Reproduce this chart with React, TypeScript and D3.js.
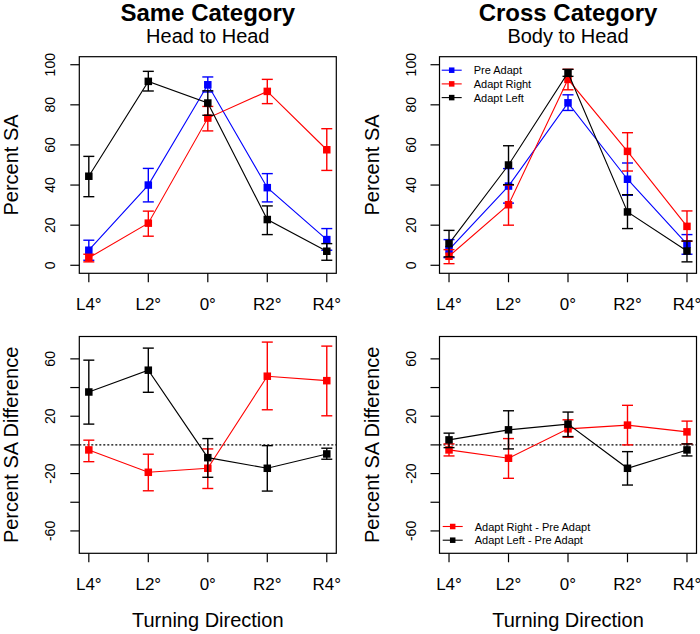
import React from "react";
import * as d3 from "d3";

const categories = ["L4°", "L2°", "0°", "R2°", "R4°"];
const seriesNamesTop = ["Pre Adapt", "Adapt Right", "Adapt Left"];
const seriesNamesDiff = ["Adapt Right - Pre Adapt", "Adapt Left - Pre Adapt"];

// Same category (Head to Head)
const samePre = [7.5, 40, 90, 38.7, 12.8];
const samePreLo = [2.5, 31.6, 86.4, 31.6, 7.5];
const samePreHi = [12.5, 48.3, 93.9, 45.7, 18.3];
const sameRight = [3.7, 21, 73.4, 86.7, 57.6];
const sameRightLo = [1.7, 14.5, 67, 80.6, 47.3];
const sameRightHi = [5.5, 27, 79.2, 92.7, 68.1];
const sameLeft = [44.4, 91.7, 80.9, 22.8, 7];
const sameLeftLo = [34.2, 86.9, 74.8, 15.3, 2.5];
const sameLeftHi = [54.3, 96.7, 87, 29.6, 10.8];

// Cross category (Body to Head)
const crossPre = [7.8, 39.5, 81, 42.9, 10.5];
const crossPreLo = [3.8, 31, 77.2, 34.9, 5.5];
const crossPreHi = [12.8, 48.2, 85, 51, 15.3];
const crossRight = [4.5, 30.2, 92.7, 56.8, 19.4];
const crossRightLo = [0.8, 20, 87.5, 47, 12];
const crossRightHi = [7.8, 40, 97.7, 66.1, 27.1];
const crossLeft = [10.8, 50, 96, 26.6, 7.1];
const crossLeftLo = [4.2, 40.2, 94.2, 18.3, 1.7];
const crossLeftHi = [17.4, 59.6, 97.7, 35.2, 12.1];

// Differences
const sameDiffRight = [-3.5, -19.1, -16.3, 47.9, 44.8];
const sameDiffRightLo = [-11.7, -32, -30.4, 24.5, 20.3];
const sameDiffRightHi = [3.3, -6.5, -2.8, 71.7, 68.9];
const sameDiffLeft = [36.9, 52.1, -8.9, -16.3, -6.3];
const sameDiffLeftLo = [14.5, 36.7, -22.6, -32.2, -10];
const sameDiffLeftHi = [59.1, 67.5, 4.4, -0.5, -2.3];

const crossDiffRight = [-3.5, -9.3, 11.2, 13.8, 9.1];
const crossDiffRightLo = [-7.7, -23.3, 5.4, 0, 0.7];
const crossDiffRightHi = [0.7, 4.4, 17.5, 27.6, 16.6];
const crossDiffLeft = [3.5, 10.5, 14.5, -16.3, -3.5];
const crossDiffLeftLo = [-1.9, -2.8, 5.8, -28, -7.7];
const crossDiffLeftHi = [8.2, 23.8, 22.9, -4.7, 0.7];

const topTicks = [0, 20, 40, 60, 80, 100];
const topTickLabels = ["0", "20", "40", "60", "80", "100"];
const diffTicks = [-60, -40, -20, 0, 20, 40, 60];
const diffTickLabels = ["-60", "", "-20", "", "20", "", "60"];

const FONT = "'Liberation Sans', Arial, Helvetica, sans-serif";

type Series = { name: string; color: string; v: number[]; lo: number[]; hi: number[] };

type PanelProps = {
  left: number;
  top: number;
  width: number;
  height: number;
  yDomain: [number, number];
  ticks: number[];
  tickLabels: string[];
  series: Series[];
  yTitle: string;
  xTitle?: string;
  title?: string;
  subtitle?: string;
  legend?: { x: number; y: number; names: string[]; colors: string[] };
  zeroLine?: boolean;
};

function Panel(p: PanelProps) {
  const x = d3.scaleLinear().domain([0.84, 5.16]).range([p.left, p.left + p.width]);
  const y = d3.scaleLinear().domain(p.yDomain).range([p.top + p.height, p.top]);
  const line = d3
    .line<number>()
    .x((_, i) => x(i + 1))
    .y((d) => y(d));
  const cx = p.left + p.width / 2;
  const cy = p.top + p.height / 2;
  const sq = 7.5;
  const cap = 5.5;
  return (
    <g>
      {p.title && (
        <text x={cx} y={21} textAnchor="middle" fontSize={24} fontWeight="bold" fontFamily={FONT}>
          {p.title}
        </text>
      )}
      {p.subtitle && (
        <text x={cx} y={42.5} textAnchor="middle" fontSize={20} fontFamily={FONT}>
          {p.subtitle}
        </text>
      )}
      {p.zeroLine && (
        <line
          x1={p.left}
          x2={p.left + p.width}
          y1={y(0)}
          y2={y(0)}
          stroke="#000"
          strokeWidth={1.2}
          strokeDasharray="2,2"
        />
      )}
      {p.series.map((s) => (
        <g key={s.name}>
          <path d={line(s.v) || ""} fill="none" stroke={s.color} strokeWidth={1.1} />
          {s.v.map((v, i) => (
            <g key={i} stroke={s.color} strokeWidth={1.4}>
              <line x1={x(i + 1)} x2={x(i + 1)} y1={y(s.lo[i])} y2={y(s.hi[i])} />
              <line x1={x(i + 1) - cap} x2={x(i + 1) + cap} y1={y(s.lo[i])} y2={y(s.lo[i])} />
              <line x1={x(i + 1) - cap} x2={x(i + 1) + cap} y1={y(s.hi[i])} y2={y(s.hi[i])} />
            </g>
          ))}
          {s.v.map((v, i) => (
            <rect key={"r" + i} x={x(i + 1) - sq / 2} y={y(v) - sq / 2} width={sq} height={sq} fill={s.color} />
          ))}
        </g>
      ))}
      <rect x={p.left} y={p.top} width={p.width} height={p.height} fill="none" stroke="#000" strokeWidth={1.2} />
      {categories.map((c, i) => (
        <g key={c}>
          <line
            x1={x(i + 1)}
            x2={x(i + 1)}
            y1={p.top + p.height}
            y2={p.top + p.height + 9}
            stroke="#000"
            strokeWidth={1.2}
          />
          <text x={x(i + 1)} y={p.top + p.height + 36.5} textAnchor="middle" fontSize={17} fontFamily={FONT}>
            {c}
          </text>
        </g>
      ))}
      {p.ticks.map((t, i) => (
        <g key={t}>
          <line x1={p.left - 9} x2={p.left} y1={y(t)} y2={y(t)} stroke="#000" strokeWidth={1.2} />
          {p.tickLabels[i] && (
            <text
              transform={`translate(${p.left - 24},${y(t)}) rotate(-90)`}
              textAnchor="middle"
              fontSize={14}
              fontFamily={FONT}
            >
              {p.tickLabels[i]}
            </text>
          )}
        </g>
      ))}
      <text
        transform={`translate(${p.left - 61},${cy}) rotate(-90)`}
        textAnchor="middle"
        fontSize={20}
        fontFamily={FONT}
      >
        {p.yTitle}
      </text>
      {p.xTitle && (
        <text x={cx} y={627} textAnchor="middle" fontSize={20} fontFamily={FONT}>
          {p.xTitle}
        </text>
      )}
      {p.legend &&
        p.legend.names.map((n, i) => {
          const ly = p.legend!.y + i * 13.7;
          const lx = p.legend!.x;
          return (
            <g key={n}>
              <line x1={lx} x2={lx + 20} y1={ly} y2={ly} stroke={p.legend!.colors[i]} strokeWidth={1.1} />
              <rect x={lx + 10 - 2.75} y={ly - 2.75} width={5.5} height={5.5} fill={p.legend!.colors[i]} />
              <text x={lx + 32} y={ly + 4} fontSize={11} fontFamily={FONT}>
                {n}
              </text>
            </g>
          );
        })}
    </g>
  );
}

const BLUE = "#0000FF";
const RED = "#FF0000";
const BLACK = "#000000";

export default function App() {
  const topDomain: [number, number] = [-4, 104];
  const diffDomain: [number, number] = [-75.6, 75.6];
  const leftX = 79.3;
  const rightX = 439.5;
  const w = 257;
  return (
    <svg
      width={700}
      height={634}
      style={{ position: "absolute", left: 0, top: 0, background: "#fff" }}
      xmlns="http://www.w3.org/2000/svg"
    >
      <rect width={700} height={634} fill="#fff" />
      <Panel
        left={leftX}
        top={56.7}
        width={w}
        height={216.6}
        yDomain={topDomain}
        ticks={topTicks}
        tickLabels={topTickLabels}
        yTitle="Percent SA"
        title="Same Category"
        subtitle="Head to Head"
        series={[
          { name: seriesNamesTop[0], color: BLUE, v: samePre, lo: samePreLo, hi: samePreHi },
          { name: seriesNamesTop[1], color: RED, v: sameRight, lo: sameRightLo, hi: sameRightHi },
          { name: seriesNamesTop[2], color: BLACK, v: sameLeft, lo: sameLeftLo, hi: sameLeftHi },
        ]}
      />
      <Panel
        left={rightX}
        top={56.7}
        width={w}
        height={216.6}
        yDomain={topDomain}
        ticks={topTicks}
        tickLabels={topTickLabels}
        yTitle="Percent SA"
        title="Cross Category"
        subtitle="Body to Head"
        legend={{ x: 441.7, y: 70.2, names: seriesNamesTop, colors: [BLUE, RED, BLACK] }}
        series={[
          { name: seriesNamesTop[0], color: BLUE, v: crossPre, lo: crossPreLo, hi: crossPreHi },
          { name: seriesNamesTop[1], color: RED, v: crossRight, lo: crossRightLo, hi: crossRightHi },
          { name: seriesNamesTop[2], color: BLACK, v: crossLeft, lo: crossLeftLo, hi: crossLeftHi },
        ]}
      />
      <Panel
        left={leftX}
        top={336.5}
        width={w}
        height={216.8}
        yDomain={diffDomain}
        ticks={diffTicks}
        tickLabels={diffTickLabels}
        yTitle="Percent SA Difference"
        xTitle="Turning Direction"
        zeroLine
        series={[
          { name: seriesNamesDiff[0], color: RED, v: sameDiffRight, lo: sameDiffRightLo, hi: sameDiffRightHi },
          { name: seriesNamesDiff[1], color: BLACK, v: sameDiffLeft, lo: sameDiffLeftLo, hi: sameDiffLeftHi },
        ]}
      />
      <Panel
        left={rightX}
        top={336.5}
        width={w}
        height={216.8}
        yDomain={diffDomain}
        ticks={diffTicks}
        tickLabels={diffTickLabels}
        yTitle="Percent SA Difference"
        xTitle="Turning Direction"
        zeroLine
        legend={{ x: 442.7, y: 526.5, names: seriesNamesDiff, colors: [RED, BLACK] }}
        series={[
          { name: seriesNamesDiff[0], color: RED, v: crossDiffRight, lo: crossDiffRightLo, hi: crossDiffRightHi },
          { name: seriesNamesDiff[1], color: BLACK, v: crossDiffLeft, lo: crossDiffLeftLo, hi: crossDiffLeftHi },
        ]}
      />
    </svg>
  );
}
